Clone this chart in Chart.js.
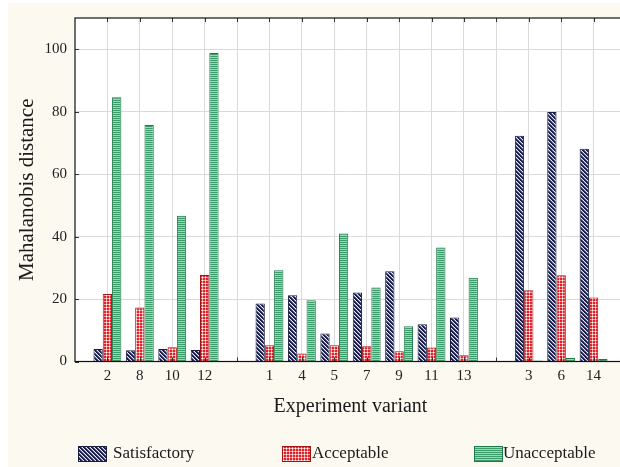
<!DOCTYPE html>
<html lang="en">
<head>
    <meta charset="UTF-8">
    <title>Mahalanobis distance by experiment variant</title>
    <style>
        body {
            margin: 0;
            padding: 0;
            width: 620px;
            height: 467px;
            overflow: hidden;
            background-color: #fcf9f1;
        }

        #chartBox {
            width: 632px;
            height: 467px;
        }
    </style>
</head>
<body>
    <div id="chartBox">
        <canvas id="distanceChart" width="632" height="467"></canvas>
    </div>

    <script src="https://cdn.jsdelivr.net/npm/chart.js"></script>

    <script>
        // experiment variants in the order shown; '' marks the gaps between groups
        const variants = ['2', '8', '10', '12', '', '1', '4', '5', '7', '9', '11', '13', '', '3', '6', '14'];

        const satisfactory = [4.0, 3.6, 4.0, 3.7, null, 18.6, 21.2, 9.0, 22.1, 28.9, 11.9, 14.1, null, 72.3, 79.9, 68.1];
        const acceptable = [21.6, 17.3, 4.6, 27.7, null, 5.2, 2.6, 5.2, 4.9, 3.3, 4.5, 2.0, null, 22.8, 27.6, 20.5];
        const unacceptable = [84.6, 75.7, 46.7, 98.8, null, 29.2, 19.6, 41.0, 23.7, 11.3, 36.5, 26.8, null, 0.3, 1.1, 0.8];

        const yTicks = [0, 20, 40, 60, 80, 100];
        const yMax = 110;

        const serif = "'Liberation Serif', 'Times New Roman', serif";

        // blank slot at both ends so the first/last variant sit one step inside the frame
        const pad = arr => [null, ...arr, null];

        function makePattern(size, pick) {
            const c = document.createElement('canvas');
            c.width = size[0];
            c.height = size[1];
            const g = c.getContext('2d');
            for (let x = 0; x < size[0]; x++) {
                for (let y = 0; y < size[1]; y++) {
                    g.fillStyle = pick(x, y);
                    g.fillRect(x, y, 1, 1);
                }
            }
            return g.createPattern(c, 'repeat');
        }

        // diagonal navy stripes
        const satFill = makePattern([4, 4], (x, y) => {
            const k = (x - y + 8) % 4;
            if (k < 2) return '#1b1e4a';
            if (k === 2) return '#6b6f95';
            return '#e9ebf5';
        });

        // red with a small white grid
        const accFill = makePattern([3, 3], (x, y) => {
            if (x === 1 && y === 1) return '#ffffff';
            if (x === 1 || y === 1) return '#f5a0a0';
            return '#e1222b';
        });

        // green horizontal stripes
        const unaFill = makePattern([1, 2], (x, y) => (y === 0 ? '#3c9c6b' : '#9bd6b5'));

        const legendItems = [
            { text: 'Satisfactory', fill: satFill, border: '#1a1d40', x: 78, textX: 113 },
            { text: 'Acceptable', fill: accFill, border: '#a31414', x: 282, textX: 312 },
            { text: 'Unacceptable', fill: unaFill, border: '#1e7a46', x: 474, textX: 503 }
        ];

        const framePlugin = {
            id: 'frame',
            beforeDraw(chart) {
                const { ctx, chartArea: a } = chart;
                ctx.save();
                ctx.fillStyle = '#fcf9f1';
                ctx.fillRect(0, 0, chart.width, chart.height);
                ctx.fillStyle = '#ffffff';
                ctx.fillRect(0, 0, 8, chart.height);
                ctx.fillRect(0, 0, chart.width, 3);
                ctx.fillRect(a.left, a.top, a.right - a.left, a.bottom - a.top);
                ctx.restore();
            },
            afterDraw(chart) {
                const { ctx, chartArea: a, scales } = chart;
                ctx.save();

                // small inward tick marks
                ctx.strokeStyle = '#333';
                ctx.lineWidth = 1;
                ctx.beginPath();
                scales.x.ticks.forEach((t, i) => {
                    const px = Math.round(scales.x.getPixelForTick(i)) + 0.5;
                    ctx.moveTo(px, a.top);
                    ctx.lineTo(px, a.top + 4);
                    ctx.moveTo(px, a.bottom);
                    ctx.lineTo(px, a.bottom - 4);
                });
                scales.y.ticks.forEach(t => {
                    const py = Math.round(scales.y.getPixelForValue(t.value)) + 0.5;
                    ctx.moveTo(a.left, py);
                    ctx.lineTo(a.left + 4, py);
                });
                ctx.stroke();

                // frame
                ctx.strokeStyle = '#111';
                ctx.lineWidth = 1.2;
                ctx.strokeRect(a.left, a.top, a.right - a.left, a.bottom - a.top);

                // legend
                ctx.font = '17px ' + serif;
                ctx.textBaseline = 'middle';
                legendItems.forEach(item => {
                    ctx.fillStyle = item.fill;
                    ctx.fillRect(item.x, 446, 28, 16);
                    ctx.strokeStyle = item.border;
                    ctx.lineWidth = 1;
                    ctx.strokeRect(item.x + 0.5, 446.5, 28, 15);
                    ctx.fillStyle = '#1a1a1a';
                    ctx.fillText(item.text, item.textX, 454);
                });
                ctx.restore();
            }
        };

        const barStyle = {
            borderWidth: 1,
            borderSkipped: 'bottom',
            categoryPercentage: 0.86,
            barPercentage: 1.0
        };

        const chartData = {
            labels: pad(variants),
            datasets: [
                { label: 'Satisfactory', data: pad(satisfactory), backgroundColor: satFill, borderColor: '#1a1d40', ...barStyle },
                { label: 'Acceptable', data: pad(acceptable), backgroundColor: accFill, borderColor: '#a31414', ...barStyle },
                { label: 'Unacceptable', data: pad(unacceptable), backgroundColor: unaFill, borderColor: '#1e7a46', ...barStyle }
            ]
        };

        const chartOptions = {
            responsive: false,
            animation: false,
            devicePixelRatio: 1,
            layout: { padding: { top: 18, right: 6, bottom: 0, left: 0 } },
            plugins: {
                legend: { display: false },
                tooltip: { enabled: false }
            },
            scales: {
                x: {
                    type: 'category',
                    offset: false,
                    grid: { color: '#dadada', drawTicks: false, offset: false },
                    border: { display: false },
                    ticks: {
                        autoSkip: false,
                        maxRotation: 0,
                        padding: 6,
                        color: '#222',
                        font: { family: serif, size: 15 }
                    },
                    title: {
                        display: true,
                        text: 'Experiment variant',
                        color: '#1a1a1a',
                        font: { family: serif, size: 20 },
                        padding: { top: 0, bottom: 48 }
                    },
                    afterFit: s => { s.height = 105.5; }
                },
                y: {
                    min: 0,
                    max: yMax,
                    grid: { color: '#dadada', drawTicks: false },
                    border: { display: false },
                    afterBuildTicks: s => { s.ticks = yTicks.map(v => ({ value: v })); },
                    ticks: {
                        padding: 8,
                        color: '#222',
                        font: { family: serif, size: 15 }
                    },
                    title: {
                        display: true,
                        text: 'Mahalanobis distance',
                        color: '#1a1a1a',
                        font: { family: serif, size: 21 },
                        padding: { top: 15, bottom: 0 }
                    },
                    afterFit: s => { s.width = 75; }
                }
            }
        };

        const ctx = document.getElementById('distanceChart').getContext('2d');
        const distanceChart = new Chart(ctx, {
            type: 'bar',
            data: chartData,
            options: chartOptions,
            plugins: [framePlugin]
        });
    </script>
</body>
</html>
